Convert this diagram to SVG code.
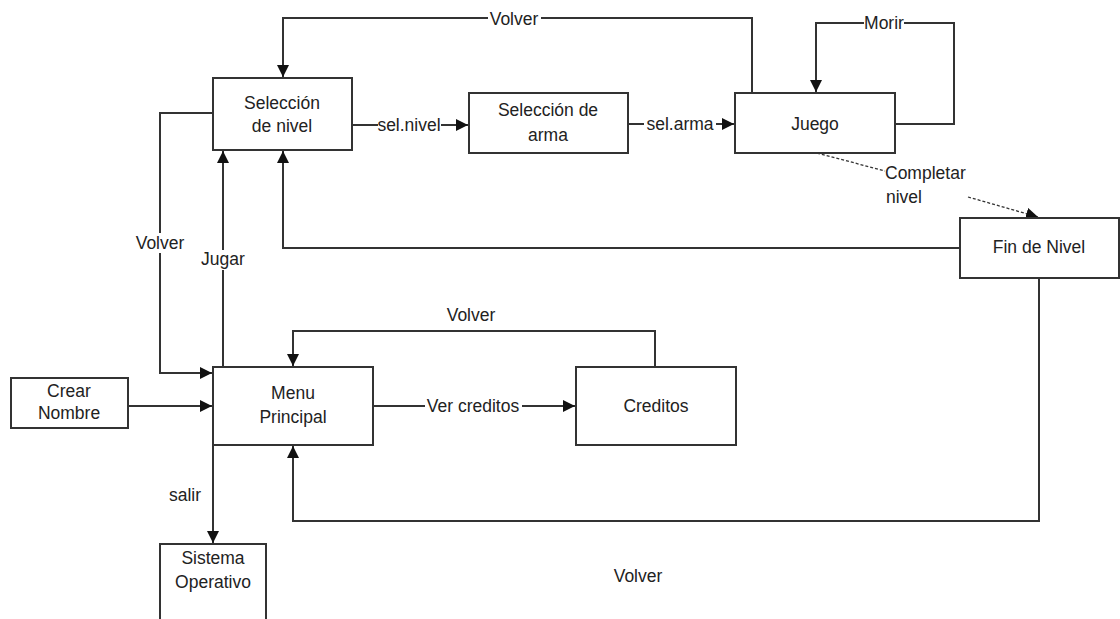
<svg xmlns="http://www.w3.org/2000/svg" width="1120" height="619" viewBox="0 0 1120 619">
<defs>
<style>
.box{fill:#fff;stroke:#333;stroke-width:2}
.ln{fill:none;stroke:#333;stroke-width:2}
.dash{fill:none;stroke:#333;stroke-width:1.3;stroke-dasharray:3 2}
.t{font-family:"Liberation Sans",Arial,sans-serif;font-size:17.5px;fill:#222;text-anchor:middle}
.ts{font-family:"Liberation Sans",Arial,sans-serif;font-size:17.5px;fill:#222;text-anchor:start}
.bg{fill:#fff}
</style>
<marker id="arr" markerUnits="userSpaceOnUse" markerWidth="14" markerHeight="12" refX="12" refY="6" orient="auto">
<path d="M0,0 L12,6 L0,12 z" fill="#111"/>
</marker>
</defs>
<rect width="1120" height="619" fill="#fff"/>

<g id="connectors">
<path class="ln" d="M752,93 V18 H283 V77" marker-end="url(#arr)"/>
<path class="ln" d="M895,124 H954 V23 H816 V92" marker-end="url(#arr)"/>
<path class="ln" d="M352,125 H468" marker-end="url(#arr)"/>
<path class="ln" d="M628,124 H734" marker-end="url(#arr)"/>
<path class="dash" d="M817,153 L885,171"/>
<path class="dash" d="M968,197 L1038,217" marker-end="url(#arr)"/>
<path class="ln" d="M960,248 H283 V151" marker-end="url(#arr)"/>
<path class="ln" d="M1039,278 V521 H293 V446" marker-end="url(#arr)"/>
<path class="ln" d="M213,113 H160 V373 H212" marker-end="url(#arr)"/>
<path class="ln" d="M223,367 V151" marker-end="url(#arr)"/>
<path class="ln" d="M128,406 H212" marker-end="url(#arr)"/>
<path class="ln" d="M373,406 H575" marker-end="url(#arr)"/>
<path class="ln" d="M655,367 V331 H293 V366" marker-end="url(#arr)"/>
<path class="ln" d="M213,445 V543" marker-end="url(#arr)"/>

<rect class="bg" x="488" y="10" width="53" height="18"/>
<text class="t" x="514" y="25">Volver</text>
<rect class="bg" x="864" y="14" width="40" height="18"/>
<text class="t" x="884" y="29">Morir</text>
<rect class="bg" x="378" y="116" width="63" height="18"/>
<text class="t" x="409" y="131">sel.nivel</text>
<rect class="bg" x="644" y="115" width="72" height="18"/>
<text class="t" x="680" y="130">sel.arma</text>
<text class="ts" x="885" y="179">Completar</text>
<text class="ts" x="886" y="203">nivel</text>
<rect class="bg" x="134" y="233" width="52" height="20"/>
<text class="t" x="160" y="249">Volver</text>
<rect class="bg" x="202" y="250" width="42" height="20"/>
<text class="t" x="223" y="265">Jugar</text>
<text class="t" x="471" y="321">Volver</text>
<rect class="bg" x="425" y="397" width="97" height="18"/>
<text class="t" x="473" y="412">Ver creditos</text>
<text class="t" x="185" y="501">salir</text>
<text class="t" x="638" y="582">Volver</text>
</g>

<g id="seleccion-nivel">
<rect class="box" x="213" y="78" width="139" height="72"/>
<text class="t" x="282" y="109">Selección</text>
<text class="t" x="282" y="132">de nivel</text>
</g>
<g id="seleccion-arma">
<rect class="box" x="469" y="93" width="159" height="60"/>
<text class="t" x="548" y="116">Selección de</text>
<text class="t" x="548" y="141">arma</text>
</g>
<g id="juego">
<rect class="box" x="735" y="93" width="160" height="60"/>
<text class="t" x="815" y="130">Juego</text>
</g>
<g id="fin-nivel">
<rect class="box" x="960" y="218" width="159" height="60"/>
<text class="t" x="1039" y="253">Fin de Nivel</text>
</g>
<g id="crear-nombre">
<rect class="box" x="11" y="378" width="117" height="50"/>
<text class="t" x="69" y="397">Crear</text>
<text class="t" x="69" y="419">Nombre</text>
</g>
<g id="menu-principal">
<rect class="box" x="213" y="367" width="160" height="78"/>
<text class="t" x="293" y="399">Menu</text>
<text class="t" x="293" y="423">Principal</text>
</g>
<g id="creditos">
<rect class="box" x="576" y="367" width="160" height="78"/>
<text class="t" x="656" y="412">Creditos</text>
</g>
<g id="sistema-operativo">
<rect class="box" x="160" y="544" width="106" height="90"/>
<text class="t" x="213" y="564">Sistema</text>
<text class="t" x="213" y="588">Operativo</text>
</g>
</svg>
